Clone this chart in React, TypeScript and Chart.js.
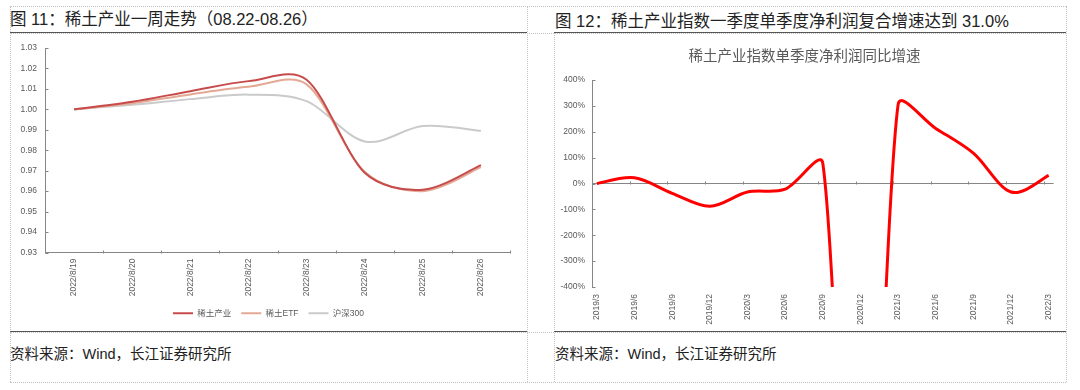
import React, { useEffect, useRef } from 'react';
import { Chart, registerables } from 'chart.js';

Chart.register(...registerables);

// ---------- data ----------
const weekDates = ['2022/8/19', '2022/8/20', '2022/8/21', '2022/8/22', '2022/8/23', '2022/8/24', '2022/8/25', '2022/8/26'];
const seriesNames = ['稀土产业', '稀土ETF', '沪深300'];
const rareEarthIndustry = [1.0, 1.0037, 1.0089, 1.0138, 1.0145, 0.969, 0.9607, 0.9727];
const rareEarthEtf = [1.0, 1.003, 1.0073, 1.011, 1.0122, 0.9695, 0.96, 0.9718];
const hs300 = [1.0, 1.0022, 1.005, 1.0072, 1.004, 0.9843, 0.9918, 0.9895];

const quarters = ['2019/3', '2019/6', '2019/9', '2019/12', '2020/3', '2020/6', '2020/9', '2020/12', '2021/3', '2021/6', '2021/9', '2021/12', '2022/3'];
const profitGrowth = [0, 22, -38, -88, -33, -22, 78, -2000, 305, 213, 117, -33, 31];

const leftTitle = '图 11：稀土产业一周走势（08.22-08.26）';
const rightTitle = '图 12：稀土产业指数一季度单季度净利润复合增速达到 31.0%';
const rightChartTitle = '稀土产业指数单季度净利润同比增速';
const sourceText = '资料来源：Wind，长江证券研究所';

// ---------- styles ----------
const TICK_FONT = "'Liberation Sans', Arial, 'Noto Sans CJK SC', sans-serif";
const CJK_FONT = "'Liberation Sans', Arial, 'Noto Sans CJK SC', sans-serif";
const TICK_COLOR = '#595959';
const AXIS_COLOR = '#868686';

// Office-style smoothing: Catmull-Rom tangents, limited by the adjacent segment lengths
const officeSmooth = {
  id: 'officeSmooth',
  beforeDatasetDraw(chart: any, args: any) {
    const meta = args.meta;
    const line = meta.dataset;
    if (!line) return;
    line.updateControlPoints(chart.chartArea, meta.iScale.axis);
    const pts = meta.data;
    const n = pts.length;
    for (let i = 0; i < n; i++) {
      const p = pts[i];
      const prev = pts[Math.max(0, i - 1)];
      const next = pts[Math.min(n - 1, i + 1)];
      const tx = next.x - prev.x;
      const ty = next.y - prev.y;
      const tl = Math.hypot(tx, ty) || 1;
      const dPrev = Math.hypot(p.x - prev.x, p.y - prev.y);
      const dNext = Math.hypot(next.x - p.x, next.y - p.y);
      const lb = Math.min(tl / 6, dPrev / 3);
      const la = Math.min(tl / 6, dNext / 3);
      p.cp1x = p.x - (tx / tl) * lb;
      p.cp1y = p.y - (ty / tl) * lb;
      p.cp2x = p.x + (tx / tl) * la;
      p.cp2y = p.y + (ty / tl) * la;
    }
  },
};

function makeTickPlugin(getXPositions: (x: any) => number[], baseValue: number) {
  return {
    id: 'insideTicks',
    afterDraw(chart: any) {
      const { ctx, chartArea } = chart;
      const xs = chart.scales.x;
      const ys = chart.scales.y;
      const L = 3;
      ctx.save();
      ctx.strokeStyle = AXIS_COLOR;
      ctx.lineWidth = 1;
      ctx.beginPath();
      const ax = Math.round(chartArea.left) + 0.5;
      ys.ticks.forEach((t: any) => {
        const py = Math.round(ys.getPixelForValue(t.value)) + 0.5;
        ctx.moveTo(ax, py);
        ctx.lineTo(ax + L, py);
      });
      const base = Math.round(ys.getPixelForValue(baseValue)) + 0.5;
      getXPositions(xs).forEach((px) => {
        const p = Math.round(px) + 0.5;
        ctx.moveTo(p, base);
        ctx.lineTo(p, base - L);
      });
      ctx.stroke();
      ctx.restore();
    },
  };
}

function LeftChart() {
  const ref = useRef<HTMLCanvasElement>(null);
  useEffect(() => {
    const font = { family: TICK_FONT, size: 8.5 };
    const chart = new Chart(ref.current!, {
      type: 'line',
      data: {
        labels: weekDates,
        datasets: [
          { label: seriesNames[0], data: rareEarthIndustry, borderColor: '#C84B4B', backgroundColor: '#C84B4B', borderWidth: 2, pointRadius: 0, tension: 0.4 },
          { label: seriesNames[1], data: rareEarthEtf, borderColor: '#E3A994', backgroundColor: '#E3A994', borderWidth: 2, pointRadius: 0, tension: 0.4 },
          { label: seriesNames[2], data: hs300, borderColor: '#CACACA', backgroundColor: '#CACACA', borderWidth: 2, pointRadius: 0, tension: 0.4 },
        ],
      },
      options: {
        animation: false,
        responsive: false,
        maintainAspectRatio: false,
        layout: { padding: { left: 0, right: 0, top: 14, bottom: 3.5 } },
        elements: { line: { capBezierPoints: false } },
        plugins: {
          legend: {
            position: 'bottom',
            labels: {
              usePointStyle: true,
              pointStyle: 'line',
              pointStyleWidth: 20,
              font: { family: CJK_FONT, size: 8.5 },
              color: TICK_COLOR,
              padding: 10,
            },
          },
          tooltip: { enabled: false },
        },
        scales: {
          x: {
            type: 'category',
            offset: true,
            grid: { display: false, drawTicks: false, offset: true },
            border: { display: true, color: AXIS_COLOR, width: 1 },
            ticks: { minRotation: 90, maxRotation: 90, autoSkip: false, padding: 6, font, color: TICK_COLOR },
            afterFit: (s: any) => { s.height = 46.5; },
          },
          y: {
            min: 0.93,
            max: 1.03,
            ticks: { stepSize: 0.01, callback: (v: any) => Number(v).toFixed(2), padding: 8, font, color: TICK_COLOR },
            grid: { display: false, drawTicks: false },
            border: { display: true, color: AXIS_COLOR, width: 1 },
            afterFit: (s: any) => { s.width = 35; },
          },
          // empty right-hand spacer so the plot ends where the reference's does
          spacer: {
            type: 'linear',
            position: 'right',
            display: true,
            grid: { display: false, drawTicks: false },
            border: { display: false },
            ticks: { display: false },
            afterFit: (s: any) => { s.width = 17; },
          },
        },
      } as any,
      plugins: [
        officeSmooth,
        makeTickPlugin((x) => weekDates.map((_, i) => x.getPixelForValue(i - 0.5)).concat([x.getPixelForValue(weekDates.length - 0.5)]), 0.93),
      ],
    });
    return () => chart.destroy();
  }, []);
  return <canvas ref={ref} width={517} height={297} style={{ position: 'absolute', left: 10, top: 34, width: 517, height: 297 }} />;
}

function RightChart() {
  const ref = useRef<HTMLCanvasElement>(null);
  useEffect(() => {
    const font = { family: TICK_FONT, size: 8.5 };
    const chart = new Chart(ref.current!, {
      type: 'line',
      data: {
        datasets: [
          {
            label: rightChartTitle,
            data: profitGrowth.map((v, i) => ({ x: i, y: v })),
            borderColor: '#FF0000',
            backgroundColor: '#FF0000',
            borderWidth: 3,
            pointRadius: 0,
            tension: 0.4,
          },
        ],
      },
      options: {
        animation: false,
        responsive: false,
        maintainAspectRatio: false,
        layout: { padding: { left: 0, right: 11, top: 14.3, bottom: 0 } },
        elements: { line: { capBezierPoints: false } },
        plugins: {
          legend: { display: false },
          tooltip: { enabled: false },
          title: {
            display: true,
            text: rightChartTitle,
            color: TICK_COLOR,
            font: { family: CJK_FONT, size: 14.5, weight: 'normal' },
            padding: { top: 0, bottom: 14.3 },
          },
        },
        scales: {
          x: {
            type: 'linear',
            min: -0.13,
            max: quarters.length - 1 + 0.13,
            afterBuildTicks: (s: any) => { s.ticks = quarters.map((_, i) => ({ value: i })); },
            ticks: { callback: (v: any) => quarters[Math.round(Number(v))], minRotation: 90, maxRotation: 90, autoSkip: false, padding: 7, font, color: TICK_COLOR },
            grid: { display: false, drawTicks: false },
            border: { display: false },
            afterFit: (s: any) => { s.height = 44; },
          },
          y: {
            min: -400,
            max: 400,
            ticks: { stepSize: 100, callback: (v: any) => `${v}%`, padding: 7, font, color: TICK_COLOR },
            grid: {
              drawTicks: false,
              lineWidth: 1,
              color: (ctx: any) => (ctx.tick && ctx.tick.value === 0 ? AXIS_COLOR : 'rgba(0,0,0,0)'),
            },
            border: { display: true, color: AXIS_COLOR, width: 1 },
            afterFit: (s: any) => { s.width = 38; },
          },
        },
      } as any,
      plugins: [officeSmooth, makeTickPlugin((x) => quarters.map((_, i) => x.getPixelForValue(i - 0.13)), 0)],
    });
    return () => chart.destroy();
  }, []);
  return <canvas ref={ref} width={512} height={297} style={{ position: 'absolute', left: 554, top: 34, width: 512, height: 297 }} />;
}

const dotted = '1px dotted #c4c4c4';

export default function App() {
  const hLine = (y: number, x1: number, x2: number, style: string) => (
    <div style={{ position: 'absolute', left: x1, top: y, width: x2 - x1, height: 0, borderTop: style }} />
  );
  const vLine = (x: number, y1: number, y2: number) => (
    <div style={{ position: 'absolute', left: x, top: y1, width: 0, height: y2 - y1, borderLeft: dotted }} />
  );
  const text = (s: string, left: number, centerY: number, size: number, color = '#222') => (
    <div style={{ position: 'absolute', left, top: centerY - 10, height: 20, lineHeight: '20px', fontSize: size, color, fontFamily: CJK_FONT, whiteSpace: 'nowrap' }}>{s}</div>
  );
  return (
    <div style={{ position: 'fixed', left: 0, top: 0, width: 1080, height: 390, background: '#fff', overflow: 'hidden' }}>
      {hLine(6, 10, 1066, dotted)}
      {hLine(33, 10, 1066, dotted)}
      {hLine(332, 10, 1066, dotted)}
      {hLine(382, 10, 1066, dotted)}
      {vLine(10, 6, 382)}
      {vLine(527, 6, 382)}
      {vLine(554, 33, 382)}
      {vLine(1066, 6, 382)}
      {hLine(32, 10, 527, '1px solid #555')}
      {hLine(32, 554, 1066, '1px solid #555')}
      {hLine(331, 10, 527, '1px solid #555')}
      {hLine(331, 554, 1066, '1px solid #555')}
      {text(leftTitle, 10, 18.5, 16.5)}
      {text(rightTitle, 555, 20.7, 16.5)}
      {text(sourceText, 10, 354, 14.5)}
      {text(sourceText, 555, 354, 14.5)}
      <LeftChart />
      <RightChart />
    </div>
  );
}
